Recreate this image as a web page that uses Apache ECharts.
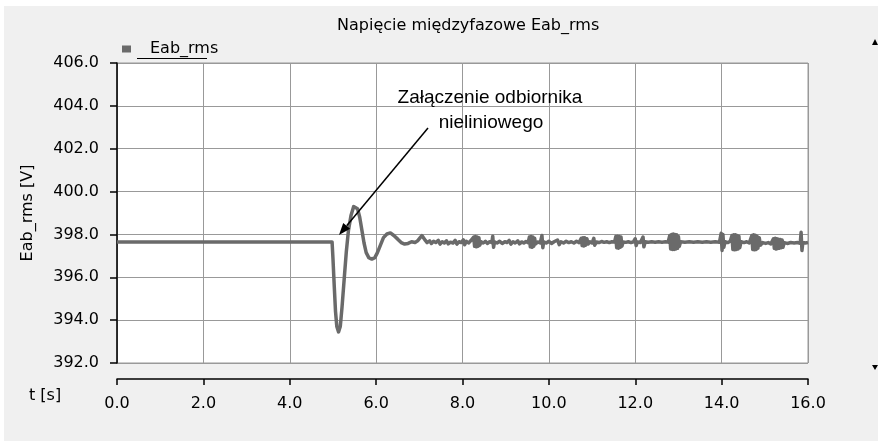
<!DOCTYPE html>
<html>
<head>
<meta charset="utf-8">
<script src="https://cdn.jsdelivr.net/npm/echarts@6/dist/echarts.min.js"></script>
<style>
html,body{margin:0;padding:0;background:#fff;}
#bg{position:absolute;left:4px;top:6px;width:874px;height:435px;background:#f0f0f0;}
#chart{position:absolute;left:0;top:0;width:878px;height:441px;}
</style>
</head>
<body>
<div id="bg"></div>
<div id="chart"></div>
<script>
const titleText = 'Napięcie międzyfazowe Eab_rms';
const seriesName = 'Eab_rms';
const xTicks = [0, 2, 4, 6, 8, 10, 12, 14, 16];
const yTicks = [392, 394, 396, 398, 400, 402, 404, 406];
const annotationLines = ['Załączenie odbiornika', 'nieliniowego'];

const tData = [
0.00,4.98,5.00,5.03,5.06,5.09,5.13,5.17,5.21,5.26,5.31,5.36,5.42,5.48,5.52,5.57,5.62,5.67,5.72,5.77,
5.83,5.90,5.97,6.03,6.10,6.17,6.25,6.33,6.41,6.50,6.58,6.66,6.74,6.82,6.90,6.96,7.02,7.06,7.10,7.14,
7.18,7.24,7.28,7.33,7.38,7.44,7.48,7.53,7.58,7.63,7.67,7.72,7.78,7.83,7.87,7.92,7.97,8.02,8.05,8.09,
8.14,8.19,8.23,8.26,8.28,8.30,8.32,8.34,8.36,8.38,8.40,8.43,8.48,8.53,8.58,8.63,8.68,8.70,8.72,8.74,
8.80,8.86,8.92,8.98,9.03,9.08,9.12,9.17,9.22,9.28,9.32,9.37,9.42,9.47,9.52,9.55,9.57,9.59,9.61,9.63,
9.65,9.67,9.69,9.74,9.80,9.84,9.86,9.88,9.94,10.00,10.06,10.12,10.16,10.20,10.24,10.28,10.34,10.40,10.46,10.52,
10.58,10.64,10.70,10.75,10.77,10.79,10.81,10.83,10.85,10.88,10.91,10.95,11.00,11.04,11.06,11.10,11.16,11.22,11.28,11.34,
11.40,11.46,11.52,11.55,11.57,11.59,11.61,11.63,11.65,11.67,11.69,11.72,11.78,11.84,11.90,11.96,12.00,12.02,12.05,12.12,
12.18,12.20,12.23,12.30,12.38,12.46,12.54,12.62,12.70,12.76,12.80,12.82,12.84,12.86,12.88,12.90,12.92,12.94,12.96,12.98,
13.00,13.02,13.05,13.15,13.25,13.35,13.45,13.55,13.65,13.75,13.85,13.95,13.99,14.01,14.03,14.05,14.08,14.14,14.20,14.24,
14.26,14.28,14.30,14.32,14.34,14.36,14.38,14.40,14.42,14.45,14.52,14.58,14.64,14.70,14.72,14.74,14.76,14.78,14.80,14.82,
14.84,14.87,14.90,14.95,15.02,15.08,15.14,15.20,15.22,15.24,15.26,15.28,15.30,15.32,15.34,15.36,15.38,15.40,15.42,15.45,
15.52,15.60,15.68,15.76,15.82,15.84,15.86,15.88,15.94,16.00
];
const vData = [
397.65,397.65,396.9,395.6,394.4,393.7,393.45,393.7,394.6,395.9,397.2,398.2,398.9,399.3,399.37,399.2,398.8,398.2,397.6,397.15,
396.92,396.85,396.92,397.15,397.5,397.85,398.02,398.07,397.95,397.78,397.62,397.55,397.58,397.66,397.62,397.7,397.85,397.95,397.88,397.72,
397.62,397.7,397.58,397.68,397.62,397.72,397.55,397.66,397.6,397.7,397.56,397.64,397.6,397.72,397.55,397.66,397.62,397.75,397.52,397.68,
397.6,397.7,397.62,397.88,397.45,397.9,397.42,397.88,397.45,397.85,397.5,397.66,397.6,397.68,397.58,397.66,397.62,397.92,397.4,397.65,
397.6,397.68,397.58,397.66,397.62,397.72,397.55,397.66,397.6,397.7,397.56,397.65,397.6,397.67,397.62,397.88,397.42,397.9,397.4,397.88,
397.45,397.82,397.55,397.65,397.6,397.95,397.38,397.66,397.6,397.68,397.58,397.66,397.6,397.74,397.52,397.66,397.6,397.68,397.62,397.66,
397.6,397.68,397.62,397.82,397.48,397.85,397.46,397.84,397.5,397.8,397.55,397.66,397.6,397.82,397.5,397.65,397.62,397.67,397.63,397.66,
397.62,397.66,397.64,397.9,397.38,397.92,397.36,397.9,397.4,397.88,397.45,397.65,397.63,397.66,397.62,397.66,397.8,397.48,397.65,397.62,
397.88,397.42,397.66,397.64,397.66,397.64,397.66,397.64,397.66,397.64,397.95,397.32,398.0,397.3,398.02,397.3,398.0,397.32,397.98,397.35,
397.9,397.45,397.66,397.64,397.66,397.64,397.66,397.64,397.66,397.64,397.66,397.64,398.05,397.25,398.0,397.4,397.66,397.62,397.68,397.95,
397.3,397.98,397.28,397.98,397.3,397.95,397.32,397.92,397.38,397.66,397.62,397.66,397.6,397.95,397.3,397.98,397.28,397.96,397.3,397.92,
397.35,397.85,397.5,397.62,397.58,397.62,397.56,397.8,397.35,397.82,397.32,397.8,397.34,397.78,397.36,397.76,397.38,397.74,397.4,397.62,
397.58,397.62,397.6,397.62,397.58,398.1,397.25,397.62,397.6,397.62
];

const seriesData = tData.map((t, i) => [t, vData[i]]);
const FONT = 'DejaVu Sans';
const chart = echarts.init(document.getElementById('chart'), null, {renderer: 'canvas'});

// arrow geometry (annotation)
const tip = [339, 235], tail = [428, 128];
const dx = tip[0] - tail[0], dy = tip[1] - tail[1];
const len = Math.sqrt(dx*dx + dy*dy);
const ux = dx/len, uy = dy/len;
const hl = 12, hw = 4.5;
const bx = tip[0] - ux*hl, by = tip[1] - uy*hl;

chart.setOption({
  animation: false,
  backgroundColor: 'transparent',
  textStyle: {fontFamily: FONT},
  grid: {
    left: 117, right: 70, top: 63, bottom: 78,
    show: true, backgroundColor: '#ffffff', borderColor: '#999999', borderWidth: 1
  },
  legend: {
    data: [seriesName],
    left: 117, top: 36,
    icon: 'rect', itemWidth: 9, itemHeight: 7,
    textStyle: {fontFamily: FONT, fontSize: 16, color: '#000', padding: [0,0,0,14]}
  },
  xAxis: {
    type: 'value', min: 0, max: 16, interval: 2,
    position: 'bottom', offset: 16,
    axisLine: {show: true, lineStyle: {color: '#000', width: 1.5}},
    axisTick: {show: true, inside: false, length: 6, lineStyle: {color: '#000', width: 1.5}},
    axisLabel: {fontFamily: FONT, fontSize: 16, color: '#000', margin: 17, formatter: v => v.toFixed(1)},
    splitLine: {show: true, lineStyle: {color: '#999999', width: 1}}
  },
  yAxis: {
    type: 'value', min: 392, max: 406, interval: 2,
    name: 'Eab_rms [V]', nameLocation: 'middle', nameRotate: 90, nameGap: 81,
    nameTextStyle: {fontFamily: FONT, fontSize: 16, color: '#000'},
    axisLine: {show: true, onZero: false, lineStyle: {color: '#000', width: 1.5}},
    axisTick: {show: true, inside: false, length: 7, lineStyle: {color: '#000', width: 1.5}},
    axisLabel: {fontFamily: FONT, fontSize: 16, color: '#000', margin: 18, formatter: v => v.toFixed(1)},
    splitLine: {show: true, lineStyle: {color: '#999999', width: 1}}
  },
  series: [{
    name: seriesName, type: 'line', data: seriesData,
    showSymbol: false, symbol: 'none',
    color: '#6a6a6a',
    lineStyle: {color: '#6a6a6a', width: 3.5, join: 'round'}
  }],
  graphic: [
    {type: 'text', left: 337, top: 18, style: {text: titleText, font: '16px "DejaVu Sans"', fill: '#000'}},
    {type: 'text', left: 29, top: 388, style: {text: 't [s]', font: '16px "DejaVu Sans"', fill: '#000'}},
    {type: 'line', shape: {x1: 137, y1: 58.5, x2: 207, y2: 58.5}, style: {stroke: '#000', lineWidth: 1}},
    {type: 'text', x: 490, y: 98, style: {text: annotationLines[0], font: '19px "Liberation Sans"', fill: '#000', align: 'center', verticalAlign: 'middle'}, z: 100},
    {type: 'text', x: 491, y: 123, style: {text: annotationLines[1], font: '19px "Liberation Sans"', fill: '#000', align: 'center', verticalAlign: 'middle'}, z: 100},
    {type: 'line', shape: {x1: tail[0], y1: tail[1], x2: bx, y2: by}, style: {stroke: '#000', lineWidth: 1.5}, z: 100},
    {type: 'polygon', shape: {points: [tip, [bx + uy*hw, by - ux*hw], [bx - uy*hw, by + ux*hw]]}, style: {fill: '#000'}, z: 100},
    {type: 'polygon', shape: {points: [[872, 45], [878, 45], [875, 39]]}, style: {fill: '#000'}},
    {type: 'polygon', shape: {points: [[872, 365], [878, 365], [875, 370]]}, style: {fill: '#000'}}
  ]
});
</script>
</body>
</html>
